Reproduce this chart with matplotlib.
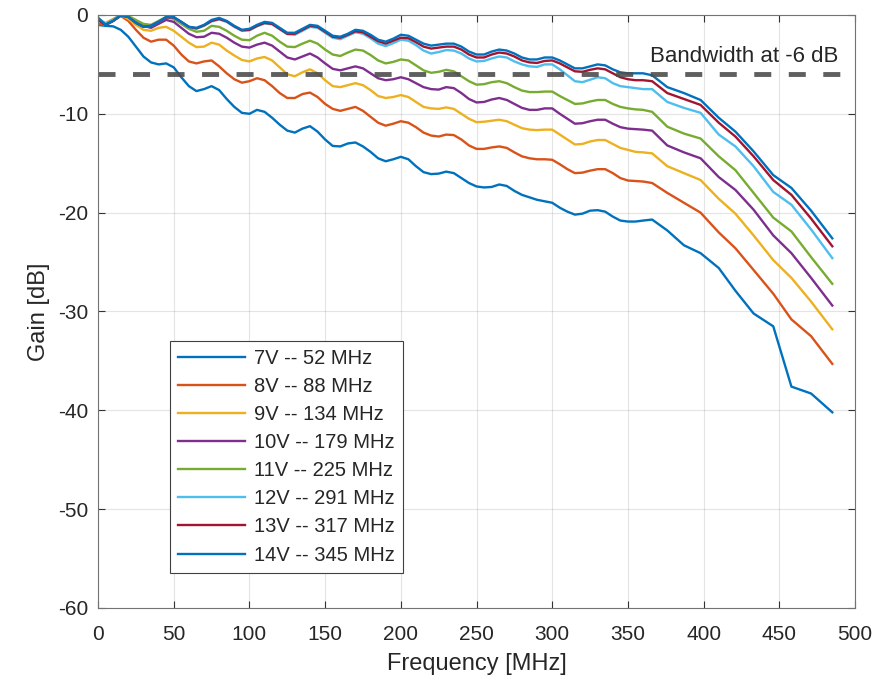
import matplotlib.pyplot as plt

# frequency grid [MHz]: 5 MHz steps up to 360, then the coarser sweep points
freq = list(range(0, 361, 5)) + [366, 376, 387, 398, 410, 421, 433, 446, 458, 471, 485]

gain_7v = [
    -1.0, -1.1, -1.15, -1.5, -2.2, -3.2, -4.2, -4.8, -5.0, -4.9,
    -5.3, -6.3, -7.2, -7.7, -7.5, -7.2, -7.6, -8.5, -9.3, -9.9,
    -10.0, -9.6, -9.8, -10.4, -11.1, -11.7, -11.9, -11.5, -11.25, -11.8,
    -12.6, -13.25, -13.3, -13.0, -12.9, -13.3, -13.85, -14.5, -14.8, -14.6,
    -14.35, -14.6, -15.3, -15.9, -16.1, -16.05, -15.85, -16.0, -16.5, -17.0,
    -17.35, -17.45, -17.4, -17.15, -17.3, -17.8, -18.2, -18.45, -18.7, -18.85,
    -19.0, -19.5, -19.9, -20.2, -20.1, -19.8, -19.75, -19.9, -20.4, -20.8,
    -20.9, -20.9, -20.8,
    -20.7, -21.8, -23.3, -24.1, -25.6, -27.9, -30.2, -31.5, -37.6, -38.3, -40.2,
]
gain_8v = [
    -0.9, -1.0, -0.6, -0.1, -0.6, -1.5, -2.3, -2.7, -2.5, -2.5,
    -3.1, -4.0, -4.7, -4.9, -4.7, -4.6, -5.2, -5.9, -6.5, -6.85,
    -6.7, -6.4, -6.6, -7.2, -7.9, -8.4, -8.4, -8.0, -7.85, -8.3,
    -9.0, -9.5, -9.7, -9.5, -9.3, -9.7, -10.3, -10.9, -11.2, -11.0,
    -10.75, -10.9, -11.35, -11.9, -12.2, -12.3, -12.1, -12.15, -12.6, -13.2,
    -13.55, -13.55, -13.4, -13.3, -13.45, -13.9, -14.3, -14.5, -14.6, -14.6,
    -14.65, -15.1, -15.6, -16.0, -15.95, -15.75, -15.6, -15.6, -16.0, -16.5,
    -16.75, -16.8, -16.85,
    -17.0, -18.0, -19.0, -20.0, -22.0, -23.6, -25.8, -28.2, -30.8, -32.5, -35.3,
]
gain_9v = [
    -0.6, -0.8, -0.4, 0.0, -0.4, -1.0, -1.5, -1.6, -1.3, -1.2,
    -1.6, -2.2, -2.8, -3.25, -3.2, -2.8, -3.0, -3.6, -4.1, -4.55,
    -4.7, -4.4, -4.25, -4.6, -5.3, -6.0, -6.2, -5.8, -5.5, -5.9,
    -6.6, -7.2, -7.3, -7.1, -6.9, -7.1, -7.6, -8.2, -8.4, -8.3,
    -8.1, -8.3, -8.8, -9.3, -9.45, -9.5, -9.35, -9.5, -10.0, -10.5,
    -10.85, -10.8, -10.7, -10.6, -10.75, -11.1, -11.45, -11.6, -11.65, -11.6,
    -11.6, -12.1, -12.6, -13.1, -13.05, -12.8, -12.65, -12.65, -13.05, -13.45,
    -13.65, -13.85, -13.9,
    -14.0, -15.3, -16.0, -16.7, -18.6, -20.1, -22.3, -24.8, -26.6, -29.0, -31.8,
]
gain_10v = [
    -0.5, -0.9, -0.5, 0.0, -0.2, -0.6, -1.1, -1.3, -0.9, -0.5,
    -0.7, -1.3, -1.9, -2.25, -2.2, -1.8, -1.9, -2.3, -2.8, -3.2,
    -3.3, -3.0, -2.8, -3.1, -3.7, -4.3, -4.5, -4.2, -3.9, -4.3,
    -4.9, -5.45, -5.6, -5.4, -5.2, -5.4, -5.9, -6.4, -6.6, -6.5,
    -6.3, -6.5, -6.9, -7.3, -7.5, -7.55, -7.3, -7.4, -7.9, -8.5,
    -8.85, -8.8, -8.55, -8.4, -8.6, -9.0, -9.4, -9.6, -9.6, -9.45,
    -9.45, -10.0, -10.5, -11.0, -10.95, -10.75, -10.6, -10.6, -11.0, -11.35,
    -11.5, -11.55, -11.6,
    -11.7, -13.2, -13.9, -14.5, -16.4, -17.7, -19.7, -22.3, -24.1, -26.6, -29.4,
]
gain_11v = [
    -0.3, -0.9, -0.5, 0.0, -0.1, -0.5, -0.9, -1.0, -0.6, -0.2,
    -0.4, -0.9, -1.4, -1.7, -1.6, -1.1, -1.2, -1.6, -2.1, -2.5,
    -2.55, -2.1, -1.8, -2.1, -2.7, -3.2, -3.25, -2.9, -2.6, -2.9,
    -3.5, -4.0, -4.15, -3.8, -3.5, -3.6, -4.05, -4.6, -4.9, -4.75,
    -4.5, -4.6, -5.1, -5.6, -5.85, -5.75, -5.55, -5.7, -6.2, -6.7,
    -7.05, -7.0, -6.8, -6.7, -6.9, -7.3, -7.65, -7.8, -7.8, -7.75,
    -7.75, -8.2, -8.6, -9.0, -8.95, -8.75, -8.6, -8.6, -9.0, -9.3,
    -9.45, -9.55, -9.6,
    -9.8, -11.3, -12.0, -12.5, -14.3, -15.7, -18.0, -20.5, -21.9, -24.5, -27.2,
]
gain_12v = [
    -0.3, -0.9, -0.5, 0.0, -0.2, -0.8, -1.2, -1.1, -0.7, -0.25,
    -0.3, -0.75, -1.25, -1.4, -1.1, -0.65, -0.45, -0.7, -1.2, -1.6,
    -1.55, -1.15, -0.85, -0.95, -1.45, -1.95, -2.0, -1.6, -1.2, -1.3,
    -1.8, -2.3, -2.45, -2.1, -1.75, -1.9, -2.35, -2.9, -3.15, -2.85,
    -2.5, -2.6, -3.05, -3.6, -3.9, -3.75, -3.55, -3.6, -3.9, -4.4,
    -4.7, -4.65, -4.4, -4.2, -4.3, -4.7, -5.0, -5.2, -5.25, -5.0,
    -5.0, -5.5, -6.1, -6.7, -6.8, -6.55, -6.3, -6.4, -6.9, -7.2,
    -7.3, -7.4, -7.5,
    -7.5, -8.8, -9.4, -9.9, -12.1, -13.3, -15.3, -17.9, -19.2, -21.7, -24.6,
]
gain_13v = [
    -0.5, -1.0, -0.6, -0.05, -0.2, -0.8, -1.2, -1.1, -0.7, -0.25,
    -0.25, -0.7, -1.2, -1.35, -1.05, -0.6, -0.4, -0.65, -1.15, -1.55,
    -1.5, -1.1, -0.8, -0.9, -1.4, -1.9, -1.9, -1.5, -1.1, -1.2,
    -1.7, -2.2, -2.3, -2.0, -1.65, -1.75, -2.2, -2.65, -2.9, -2.6,
    -2.3, -2.35, -2.75, -3.2, -3.4, -3.3, -3.2, -3.2, -3.5, -4.0,
    -4.3, -4.3, -4.0, -3.8, -3.9, -4.2, -4.6, -4.8, -4.85, -4.65,
    -4.6, -4.9, -5.3, -5.7, -5.75, -5.55, -5.4, -5.5, -5.9, -6.3,
    -6.5, -6.6, -6.6,
    -6.7, -7.9, -8.5, -9.1, -10.9, -12.3, -14.3, -16.7, -18.2, -20.6, -23.4,
]
gain_14v = [
    -0.3, -1.0, -0.6, -0.05, -0.2, -0.8, -1.2, -1.1, -0.7, -0.2,
    -0.2, -0.7, -1.2, -1.3, -1.0, -0.5, -0.3, -0.6, -1.1, -1.5,
    -1.4, -1.0, -0.7, -0.8, -1.3, -1.8, -1.8, -1.4, -1.0, -1.1,
    -1.6, -2.1, -2.2, -1.9, -1.5, -1.6, -2.0, -2.5, -2.7, -2.4,
    -2.0, -2.1, -2.5, -2.9, -3.1, -3.0, -2.9, -2.9, -3.2, -3.7,
    -4.0, -4.0, -3.7, -3.5, -3.6, -3.9, -4.3, -4.5, -4.5, -4.3,
    -4.3, -4.6, -5.0, -5.4, -5.4, -5.2, -5.0, -5.1, -5.5, -5.8,
    -5.9, -5.9, -5.9,
    -6.1, -7.3, -7.9, -8.6, -10.4, -11.8, -13.8, -16.2, -17.5, -19.8, -22.6,
]

series = [gain_7v, gain_8v, gain_9v, gain_10v, gain_11v, gain_12v, gain_13v, gain_14v]
labels = ["7V -- 52 MHz", "8V -- 88 MHz", "9V -- 134 MHz", "10V -- 179 MHz",
          "11V -- 225 MHz", "12V -- 291 MHz", "13V -- 317 MHz", "14V -- 345 MHz"]
# MATLAB default line order, wrapping back to blue for the 8th trace
colors = ["#0072BD", "#D95319", "#EDB120", "#7E2F8E",
          "#77AC30", "#4DBEEE", "#A2142F", "#0072BD"]

bw_level = -6

plt.rcParams["font.family"] = ["Liberation Sans", "DejaVu Sans"]
plt.rcParams["axes.unicode_minus"] = False

fig = plt.figure(figsize=(8.84, 6.81), dpi=100)
ax = fig.add_axes([0.1109, 0.1072, 0.8563, 0.8708])

for g, lab, c in zip(series, labels, colors):
    ax.plot(freq, g, color=c, lw=1.7, label=lab)

ax.axhline(bw_level, color="0.3", lw=3.5, ls=(0, (3.5, 3.6)), alpha=0.9)
ax.text(489, -4.75, "Bandwidth at -6 dB", ha="right", va="baseline",
        fontsize=16, color="#262626")

ax.set_xlim(0, 500)
ax.set_ylim(-60, 0)
ax.set_xticks(range(0, 501, 50))
ax.set_yticks(range(-60, 1, 10))
ax.grid(True, color="0.15", alpha=0.12, lw=0.8)
ax.tick_params(direction="in", top=True, right=True, length=5, width=0.8,
               labelsize=15, labelcolor="#262626", color="0.2")
ax.tick_params(axis="x", pad=12)
ax.tick_params(axis="y", pad=7)
for s in ax.spines.values():
    s.set_color("0.45")
    s.set_linewidth(0.8)

ax.set_xlabel("Frequency [MHz]", fontsize=17, color="#262626", labelpad=7)
ax.set_ylabel("Gain [dB]", fontsize=17, color="#262626", labelpad=6)

leg = ax.legend(loc="lower left", bbox_to_anchor=(0.095, 0.059), borderaxespad=0,
                fontsize=14.5, fancybox=False, edgecolor="0.25", framealpha=1,
                handlelength=3.3, labelspacing=0.45, handletextpad=0.45,
                borderpad=0.42)
leg.get_frame().set_linewidth(0.8)
for t in leg.get_texts():
    t.set_color("#262626")

fig.savefig("out.png", dpi=100)
